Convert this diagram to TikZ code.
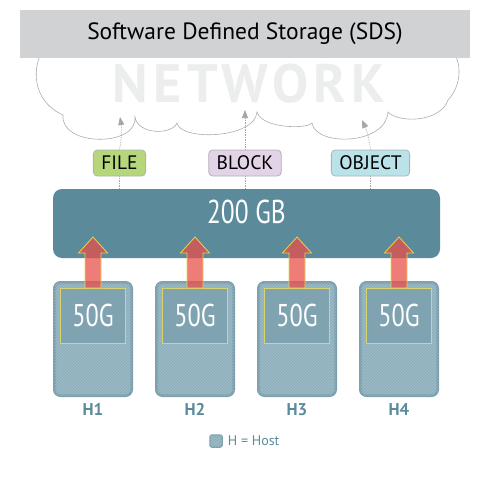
\documentclass[tikz,border=0pt]{standalone}
\usepackage{fontspec}
\setmainfont{PT Sans}
\newfontfamily\narrowfont[FakeStretch=0.77]{PT Sans}
\newfontfamily\netfont[LetterSpace=10]{PT Sans}
\usetikzlibrary{positioning,calc,patterns,arrows.meta}

\definecolor{sdsgray}{HTML}{D1D2D4}
\definecolor{netgray}{HTML}{ECEDED}
\definecolor{poolteal}{HTML}{5B8B9A}
\definecolor{hostfill}{HTML}{8FB0BD}
\definecolor{hostrim}{HTML}{7E9FAD}
\definecolor{hostline}{HTML}{A0BEC9}
\definecolor{slotfill}{HTML}{7FA3B1}
\definecolor{slotline}{HTML}{D8D36A}
\definecolor{upred}{HTML}{E8504A}
\definecolor{arrowline}{HTML}{E8D44D}
\definecolor{filegreen}{HTML}{B6D67C}
\definecolor{blockpink}{HTML}{E3D3E6}
\definecolor{objcyan}{HTML}{B9E3E9}

\begin{document}
\begin{tikzpicture}[
  x=1pt, y=-1pt,
  cloudline/.style={draw=black!32, line width=0.6pt, fill=white},
  title/.style={fill=sdsgray, minimum width=450pt, minimum height=48pt, inner sep=0pt, font=\fontsize{23.5}{26}\selectfont},
  watermark/.style={text=netgray, inner sep=0pt, font=\netfont\bfseries\fontsize{54}{56}\selectfont},
  pool/.style={fill=poolteal, rounded corners=9pt, minimum width=387pt, minimum height=69pt},
  pooltext/.style={text=white, inner sep=0pt, font=\narrowfont\fontsize{33}{36}\selectfont},
  access/.style={draw=black!30, line width=0.8pt, rounded corners=4pt, minimum height=26pt, inner xsep=8pt, inner ysep=0pt, font=\fontsize{19.5}{21}\selectfont},
  feed/.style={draw=black!35, densely dotted, line width=0.7pt},
  feedtip/.style={-{Triangle[width=6pt,length=8pt,fill=black!35]}},
  host/.style={draw=hostrim, line width=3pt, fill=hostfill, rounded corners=6pt, minimum width=77pt, minimum height=113pt, postaction={pattern=north east lines, pattern color=hostline}},
  slot/.style={draw=slotline, line width=0.7pt, fill=slotfill, minimum width=65pt, minimum height=55pt, inner sep=0pt, text=white, font=\narrowfont\fontsize{31.5}{34}\selectfont},
  hosttag/.style={text=poolteal, inner sep=0pt, font=\bfseries\fontsize{17}{19}\selectfont},
  uparrow/.style={fill=upred, fill opacity=0.75, draw=arrowline, line width=0.8pt, line join=miter}
]
  \useasboundingbox (0,0) rectangle (481,482);

  % cloud behind the title bar
  \draw[cloudline] (43,50) .. controls (33,65) and (30,100) .. (63,115)
    .. controls (60,147) and (138,147) .. (135,117)
    .. controls (138,135) and (172,135) .. (177,123)
    .. controls (180,141) and (255,139) .. (257,112)
    .. controls (262,129) and (308,129) .. (312,123)
    .. controls (316,147) and (386,145) .. (388,112)
    .. controls (398,123) and (440,123) .. (448,100)
    .. controls (462,85) and (462,62) .. (452,50) -- cycle;
  \node (net) [watermark] at (249,84) {NETWORK};

  \node (sds) [title] at (245,34) {Software Defined Storage (SDS)};

  % storage pool
  \node (pool) [pool] at (246.5,223.5) {};
  \node (pooltxt) [pooltext, below=11.5pt of pool.north] {200 GB};

  % access types
  \node (file) [access, fill=filegreen] at (119.5,163) {FILE};
  \node (block) [access, fill=blockpink] at (245,163) {BLOCK};
  \node (object) [access, fill=objcyan] at (370.5,163) {OBJECT};

  \coordinate (filetip) at (120,117);
  \coordinate (blocktip) at (245,110);
  \coordinate (objecttip) at (362,120);

  \draw[feed] (file.south |- pool.north) -- (file.south);
  \draw[feed, feedtip] (file.north) to[bend right=10] (filetip);
  \draw[feed] (block.south |- pool.north) -- (block.south);
  \draw[feed, feedtip] (block.north) -- (blocktip);
  \draw[feed] (object.south |- pool.north) -- (object.south);
  \draw[feed, feedtip] (object.north) to[bend right=8] (objecttip);

  % hosts
  \node (h1) [host] at (93,339) {};
  \node (h2) [host, right=22pt of h1] {};
  \node (h3) [host, right=22pt of h2] {};
  \node (h4) [host, right=22pt of h3] {};

  \node (s1) [slot, below=7pt of h1.north] {50G};
  \node (s2) [slot, below=7pt of h2.north] {50G};
  \node (s3) [slot, below=7pt of h3.north] {50G};
  \node (s4) [slot, below=7pt of h4.north] {50G};

  \node (t1) [hosttag, below=6pt of h1] {H1};
  \node (t2) [hosttag, below=6pt of h2] {H2};
  \node (t3) [hosttag, below=6pt of h3] {H3};
  \node (t4) [hosttag, below=6pt of h4] {H4};

  % contributions to the pool
  \draw[uparrow] ($(s1.north)+(-8,0)$) -- ++(0,-35) -- ++(-6.5,0) -- ++(14.5,-16) -- ++(14.5,16) -- ++(-6.5,0) -- ++(0,35) -- cycle;
  \draw[uparrow] ($(s2.north)+(-8,0)$) -- ++(0,-35) -- ++(-6.5,0) -- ++(14.5,-16) -- ++(14.5,16) -- ++(-6.5,0) -- ++(0,35) -- cycle;
  \draw[uparrow] ($(s3.north)+(-8,0)$) -- ++(0,-35) -- ++(-6.5,0) -- ++(14.5,-16) -- ++(14.5,16) -- ++(-6.5,0) -- ++(0,35) -- cycle;
  \draw[uparrow] ($(s4.north)+(-8,0)$) -- ++(0,-35) -- ++(-6.5,0) -- ++(14.5,-16) -- ++(14.5,16) -- ++(-6.5,0) -- ++(0,35) -- cycle;

  % legend
  \node (key) [host, minimum width=12pt, minimum height=12pt, line width=1.5pt, rounded corners=2pt] at (216,441) {};
  \node (keytext) [right=5pt of key, text=poolteal, inner sep=0pt, font=\fontsize{14}{16}\selectfont] {H = Host};
\end{tikzpicture}
\end{document}
